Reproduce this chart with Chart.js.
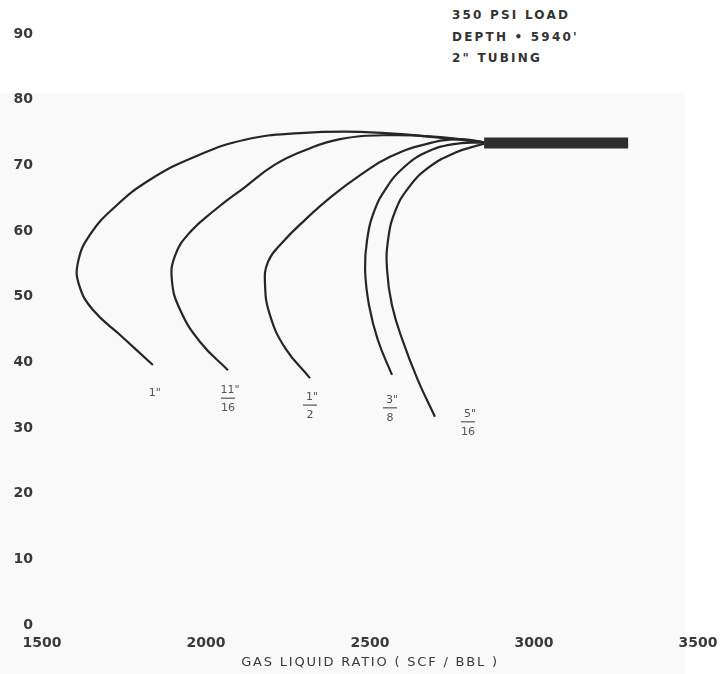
<!DOCTYPE html>
<html>
<head>
<meta charset="utf-8">
<script src="https://cdn.jsdelivr.net/npm/chart.js@4/dist/chart.umd.min.js"></script>
<style>
  html, body { margin: 0; padding: 0; background: #fff; }
  #wrap { position: relative; width: 720px; height: 674px; }
  #paper { position: absolute; left: 0; top: 93px; width: 685px; height: 581px; background: #f9f9f9; }
  #note { position: absolute; left: 452px; top: 5px; font: bold 12px "DejaVu Sans", sans-serif;
          color: #333; line-height: 21.5px; letter-spacing: 2.2px; }
  canvas { position: absolute; left: 0; top: 0; }
</style>
</head>
<body>
<div id="wrap">
  <div id="paper"></div>
  <div id="note">350 PSI LOAD<br>DEPTH • 5940'<br>2" TUBING</div>
  <canvas id="chart" width="720" height="674"></canvas>
</div>
<script>
// choke sizes (curve labels)
const chokeNum = ['1"', '11"', '1"', '3"', '5"'];
const chokeDen = ['', '16', '2', '8', '16'];

// gas liquid ratio (scf/bbl) and y value along each curve, from the bottom end upward
const glr1 = [1838, 1744, 1655, 1613, 1610, 1646, 1723, 1829, 1966, 2119, 2287, 2470, 2653, 2848];
const val1 = [39.6, 43.9, 48.0, 51.8, 55.3, 59.4, 63.7, 67.8, 71.3, 73.9, 74.9, 75.1, 74.5, 73.5];

const glr2 = [2067, 1982, 1921, 1896, 1906, 1951, 2027, 2119, 2210, 2302, 2409, 2561, 2714, 2848];
const val2 = [38.8, 43.1, 48.0, 52.5, 56.3, 59.8, 63.2, 66.7, 70.1, 72.3, 74.0, 74.6, 74.3, 73.5];

const glr3 = [2317, 2241, 2195, 2180, 2189, 2232, 2302, 2384, 2470, 2561, 2668, 2774, 2848];
const val3 = [37.6, 42.2, 47.2, 51.8, 55.3, 58.2, 61.7, 65.3, 68.5, 71.3, 73.2, 74.0, 73.5];

const glr4 = [2567, 2524, 2497, 2485, 2491, 2512, 2549, 2601, 2668, 2750, 2848];
const val4 = [38.1, 43.4, 48.7, 54.1, 58.6, 62.9, 66.5, 69.6, 71.9, 73.2, 73.5];

const glr5 = [2698, 2646, 2601, 2567, 2552, 2555, 2576, 2616, 2677, 2759, 2848];
const val5 = [31.7, 37.3, 43.1, 48.7, 54.1, 58.6, 62.9, 66.5, 69.6, 71.9, 73.3];

// common flat section where all curves meet
const glrFlat = [2848, 3287];
const valFlat = [73.4, 73.4];

const xTicks = [1500, 2000, 2500, 3000, 3500];
const yTicks = [0, 10, 20, 30, 40, 50, 60, 70, 80, 90];
const xTitle = 'GAS LIQUID RATIO ( SCF / BBL )';

const ink = '#262626';
const textColor = '#3a3a3a';

const pts = (xs, ys) => xs.map((x, i) => ({ x: x, y: ys[i] }));
const curves = [[glr1, val1], [glr2, val2], [glr3, val3], [glr4, val4], [glr5, val5]];

const datasets = curves.map(([xs, ys], i) => ({
  label: chokeNum[i] + (chokeDen[i] ? '/' + chokeDen[i] : ''),
  data: pts(xs, ys),
  borderColor: ink,
  borderWidth: 2.2,
  tension: 0.45,
  pointRadius: 0
}));
datasets.push({
  label: 'flat',
  data: pts(glrFlat, valFlat),
  borderColor: '#2e2e2e',
  borderWidth: 11,
  borderCapStyle: 'butt',
  pointRadius: 0
});

// pixel offsets of each choke label from the bottom end of its curve
const labelOffsets = [[2, 28], [0, 28], [0, 27], [-2, 33], [33, 5]];

const chokeLabels = {
  id: 'chokeLabels',
  afterDatasetsDraw(chart) {
    const { ctx, scales: { x, y } } = chart;
    ctx.save();
    ctx.fillStyle = '#555';
    ctx.strokeStyle = '#555';
    ctx.lineWidth = 1.2;
    ctx.textAlign = 'center';
    ctx.textBaseline = 'middle';
    ctx.font = '11px "DejaVu Sans", sans-serif';
    curves.forEach(([xs, ys], i) => {
      const cx = x.getPixelForValue(xs[0]) + labelOffsets[i][0];
      const cy = y.getPixelForValue(ys[0]) + labelOffsets[i][1];
      if (!chokeDen[i]) {
        ctx.fillText(chokeNum[i], cx, cy);
        return;
      }
      ctx.fillText(chokeNum[i], cx + 2, cy - 8);
      ctx.beginPath();
      ctx.moveTo(cx - 7, cy);
      ctx.lineTo(cx + 7, cy);
      ctx.stroke();
      ctx.fillText(chokeDen[i], cx, cy + 10);
    });

    // x axis title, spaced out like the lettering on the original
    const area = chart.chartArea;
    ctx.font = '13px "DejaVu Sans", sans-serif';
    ctx.fillStyle = textColor;
    ctx.letterSpacing = '1.8px';
    ctx.fillText(xTitle, (area.left + area.right) / 2, 663);
    ctx.restore();
  }
};

const tickFont = { family: '"DejaVu Sans", sans-serif', size: 14, weight: 'bold' };

new Chart(document.getElementById('chart'), {
  type: 'scatter',
  data: { datasets: datasets },
  options: {
    responsive: false,
    animation: false,
    showLine: true,
    layout: { padding: { top: 34, right: 22, left: 0, bottom: 0 } },
    plugins: { legend: { display: false }, tooltip: { enabled: false } },
    scales: {
      x: {
        type: 'linear',
        min: 1500,
        max: 3500,
        afterBuildTicks: s => { s.ticks = xTicks.map(v => ({ value: v })); },
        afterFit: s => { s.height = 49; s.paddingLeft = 0; s.paddingRight = 0; },
        ticks: { color: textColor, font: tickFont, padding: 10, maxRotation: 0, callback: v => String(v) },
        grid: { display: false, drawTicks: false },
        border: { display: false }
      },
      y: {
        min: 0,
        max: 90,
        afterBuildTicks: s => { s.ticks = yTicks.map(v => ({ value: v })); },
        afterFit: s => { s.width = 42; },
        ticks: { color: textColor, font: tickFont, padding: 9 },
        grid: { display: false, drawTicks: false },
        border: { display: false }
      }
    }
  },
  plugins: [chokeLabels]
});
</script>
</body>
</html>
